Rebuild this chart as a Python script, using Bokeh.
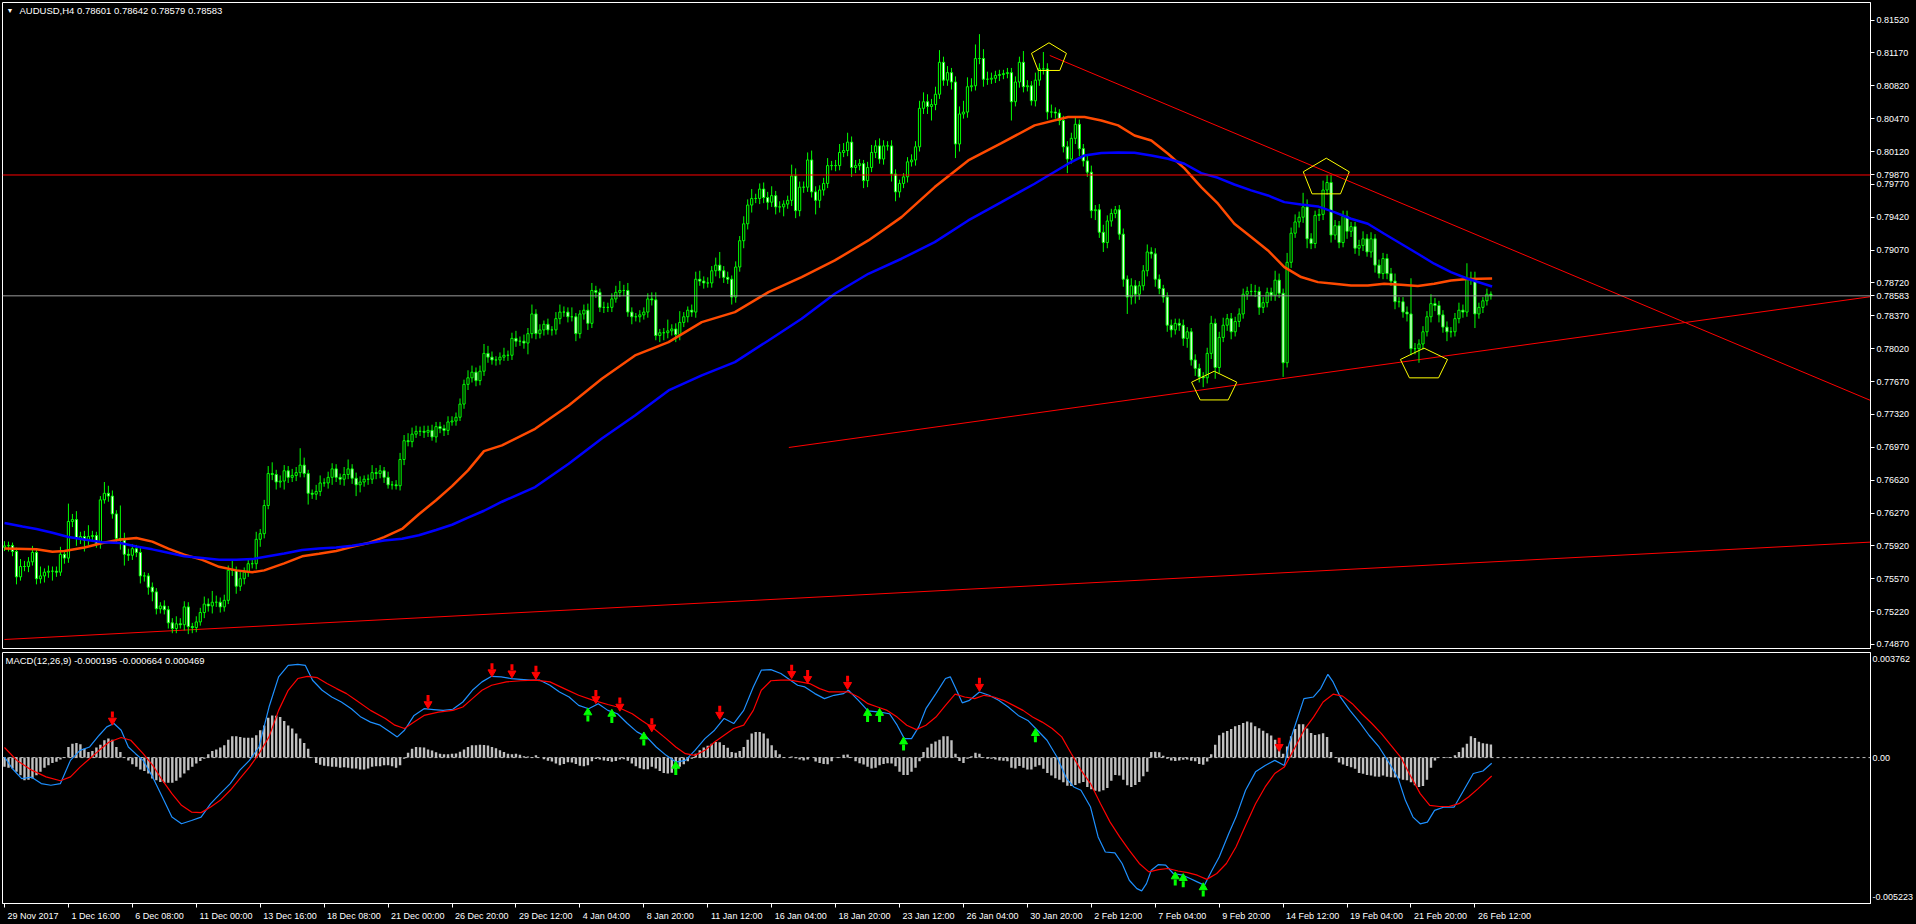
import numpy as np
from bokeh.plotting import figure
from bokeh.layouts import column
from bokeh.models import (Range1d, FixedTicker, PrintfTickFormatter, Label, Span,
                          ColumnDataSource, GlobalInlineStyleSheet)
from bokeh.embed import file_html
from bokeh.resources import INLINE

# ---------------------------------------------------------------- data
symbol_text = "AUDUSD,H4  0.78601 0.78642 0.78579 0.78583"
macd_text = "MACD(12,26,9) -0.000195 -0.000664 0.000469"

# H4 closes in 1e-5 price units (bar 0 = 29 Nov 2017 00:00)
first_open = 75905
closes = [
    75920, 75925, 75860, 75590, 75700, 75700, 75750, 75850, 75570, 75600,
    75640, 75650, 75650, 75640, 75830, 75790, 76180, 76200, 76000, 76020,
    75980, 76020, 76030, 75940, 76410, 76480, 76450, 76260, 76000, 75980,
    75830, 75820, 75890, 75850, 75600, 75600, 75480, 75430, 75250, 75280,
    75240, 75100, 75040, 75090, 75080, 75270, 75060, 75050, 75110, 75210,
    75300, 75280, 75320, 75320, 75270, 75340, 75660, 75660, 75490, 75570,
    75640, 75730, 75730, 75990, 76050, 76350, 76690, 76680, 76600, 76610,
    76720, 76650, 76670, 76700, 76780, 76690, 76480, 76470, 76500, 76590,
    76590, 76650, 76740, 76650, 76630, 76680, 76740, 76640, 76570, 76600,
    76630, 76630, 76700, 76690, 76720, 76650, 76570, 76570, 76560, 76840,
    77040, 77030, 77110, 77140, 77140, 77130, 77150, 77080, 77190, 77170,
    77150, 77240, 77250, 77290, 77430, 77640, 77710, 77770, 77680, 77780,
    77970, 77930, 77900, 77900, 77930, 77950, 77950, 78130, 78100, 78100,
    78080, 78180, 78390, 78180, 78220, 78280, 78220, 78220, 78340, 78410,
    78410, 78360, 78360, 78180, 78390, 78430, 78290, 78640, 78620, 78460,
    78460, 78460, 78550, 78620, 78640, 78640, 78410, 78360, 78360, 78380,
    78410, 78550, 78540, 78160, 78190, 78190, 78210, 78230, 78170, 78300,
    78360, 78430, 78410, 78760, 78740, 78720, 78720, 78850, 78910, 78850,
    78780, 78760, 78570, 78890, 79170, 79350, 79550, 79620, 79620, 79720,
    79630, 79580, 79650, 79530, 79530, 79560, 79600, 79860, 79490, 79740,
    79740, 80030, 79690, 79600, 79710, 79780, 79970, 79970, 79970, 80110,
    80130, 80220, 79950, 79970, 79990, 79810, 79950, 80110, 80180, 80040,
    80180, 80180, 79880, 79690, 79780, 79850, 80010, 80030, 80170, 80580,
    80650, 80600, 80620, 80730, 81070, 80880, 80960, 80860, 80200, 80520,
    80540, 80810, 80820, 81110, 81110, 80890, 80890, 80900, 80930, 80940,
    80950, 80960, 80650, 80860, 81070, 80810, 80820, 80660, 80880, 81000,
    81000, 80540, 80540, 80530, 80450, 80170, 80040, 80260, 80410, 80150,
    80020, 79900, 79490, 79500, 79260, 79150, 79380, 79460, 79500, 79240,
    78760, 78570, 78690, 78600, 78690, 78850, 79050, 79030, 78760, 78660,
    78570, 78270, 78220, 78290, 78270, 78130, 78200, 77900, 77810, 77720,
    77710, 77970, 78290, 77820, 78140, 78270, 78340, 78200, 78310, 78390,
    78600, 78630, 78630, 78630, 78460, 78510, 78620, 78590, 78750, 78610,
    77870, 78940, 79250, 79370, 79420, 79530, 79190, 79140, 79440, 79450,
    79710, 79790, 79230, 79330, 79150, 79430, 79270, 79320, 79090, 79120,
    79190, 79050, 79190, 78910, 78820, 78980, 78820, 78740, 78520, 78520,
    78410, 78390, 78020, 78020, 78070, 78200, 78360, 78500, 78480, 78380,
    78250, 78200, 78200, 78340, 78430, 78410, 78770, 78760, 78390, 78460,
    78530, 78600, 78583,
]
# wick lengths above / below the body, in pips (1e-4)
upper_wick = [
    5, 4, 3, 4, 8, 6, 5, 7, 3, 10, 4, 6, 5, 5, 8, 4, 19, 6, 9, 5,
    6, 12, 5, 4, 4, 12, 8, 6, 4, 35, 8, 6, 5, 4, 5, 4, 3, 5, 4, 4,
    6, 4, 5, 8, 6, 6, 5, 4, 6, 5, 8, 6, 12, 7, 5, 6, 5, 12, 4, 8,
    5, 6, 6, 8, 5, 6, 8, 12, 5, 6, 6, 5, 7, 6, 18, 8, 4, 4, 7, 8,
    5, 6, 6, 5, 4, 8, 10, 5, 6, 6, 4, 5, 8, 5, 6, 4, 6, 4, 5, 7,
    6, 8, 7, 6, 5, 6, 5, 6, 5, 5, 4, 6, 5, 5, 6, 5, 8, 7, 5, 6,
    10, 8, 6, 4, 5, 8, 5, 6, 8, 5, 7, 6, 10, 5, 6, 4, 6, 4, 7, 8,
    6, 5, 10, 4, 4, 6, 7, 8, 5, 4, 6, 5, 6, 7, 10, 6, 8, 5, 4, 5,
    5, 6, 7, 8, 4, 5, 12, 5, 6, 12, 5, 4, 6, 8, 9, 5, 6, 5, 8, 14,
    5, 6, 4, 6, 5, 8, 6, 10, 5, 6, 7, 6, 10, 5, 6, 4, 5, 12, 8, 6,
    6, 8, 10, 6, 5, 6, 8, 5, 6, 9, 8, 10, 6, 6, 5, 4, 6, 8, 6, 8,
    6, 5, 6, 5, 4, 4, 5, 6, 6, 8, 10, 8, 6, 8, 13, 6, 7, 5, 6, 8,
    12, 10, 8, 15, 26, 10, 8, 6, 5, 5, 4, 5, 5, 6, 6, 12, 6, 5, 8, 6,
    18, 6, 8, 5, 4, 5, 6, 6, 8, 5, 5, 6, 7, 5, 6, 8, 6, 5, 4, 5,
    6, 4, 8, 6, 5, 6, 8, 5, 6, 5, 4, 5, 6, 5, 5, 6, 5, 4, 6, 5,
    5, 6, 8, 5, 6, 8, 5, 6, 5, 6, 6, 5, 8, 7, 5, 6, 5, 5, 10, 7,
    5, 10, 6, 8, 6, 15, 8, 6, 5, 6, 10, 8, 8, 6, 5, 6, 6, 5, 5, 6,
    8, 5, 7, 5, 6, 6, 5, 6, 8, 5, 5, 6, 38, 6, 5, 6, 6, 10, 6, 5,
    5, 6, 5, 6, 8, 6, 16, 7, 8, 5, 4, 6, 3,
]
lower_wick = [
    4, 6, 5, 8, 4, 5, 6, 4, 6, 5, 7, 6, 10, 5, 4, 6, 5, 6, 8, 6,
    12, 5, 6, 4, 5, 4, 6, 5, 6, 10, 12, 6, 5, 5, 8, 6, 8, 10, 6, 5,
    5, 6, 5, 5, 4, 6, 8, 6, 5, 4, 6, 6, 8, 5, 6, 5, 4, 6, 8, 5,
    6, 5, 5, 6, 8, 5, 4, 6, 8, 6, 9, 6, 5, 6, 5, 4, 12, 5, 6, 5,
    4, 6, 8, 5, 6, 7, 5, 6, 12, 8, 5, 6, 5, 6, 5, 6, 4, 5, 4, 5,
    6, 5, 6, 4, 5, 6, 5, 4, 6, 5, 6, 5, 4, 5, 4, 5, 6, 5, 6, 5,
    5, 6, 5, 6, 5, 4, 6, 5, 6, 5, 6, 12, 5, 6, 5, 6, 5, 6, 5, 6,
    5, 6, 5, 8, 5, 6, 7, 5, 6, 5, 6, 5, 5, 4, 5, 6, 5, 8, 5, 6,
    5, 6, 6, 5, 7, 8, 6, 5, 8, 6, 5, 6, 5, 6, 5, 6, 5, 5, 6, 8,
    6, 5, 8, 6, 5, 8, 6, 8, 5, 6, 6, 8, 5, 8, 6, 10, 5, 6, 8, 6,
    6, 5, 6, 15, 8, 6, 5, 5, 6, 5, 5, 6, 10, 6, 5, 8, 7, 5, 6, 5,
    6, 5, 8, 10, 6, 5, 6, 5, 6, 5, 6, 8, 15, 6, 5, 6, 6, 8, 15, 8,
    5, 6, 5, 5, 6, 8, 6, 5, 5, 6, 5, 5, 20, 5, 6, 6, 5, 5, 6, 6,
    6, 8, 6, 6, 5, 6, 15, 5, 6, 8, 6, 5, 8, 10, 6, 10, 6, 6, 5, 6,
    8, 18, 8, 10, 6, 5, 6, 5, 8, 6, 6, 7, 8, 5, 6, 8, 10, 6, 8, 6,
    10, 6, 6, 12, 6, 5, 6, 8, 5, 6, 5, 6, 5, 6, 8, 6, 5, 6, 6, 5,
    15, 5, 6, 5, 6, 6, 10, 6, 5, 6, 6, 5, 8, 5, 6, 5, 8, 6, 6, 8,
    6, 5, 6, 8, 5, 6, 6, 5, 8, 6, 6, 8, 7, 6, 15, 6, 5, 6, 6, 8,
    6, 10, 6, 5, 5, 6, 5, 6, 15, 5, 6, 5, 4,
]

# moving averages, read at sample bars
orange_ma_bar = [0, 8, 12, 15, 20, 24.5, 29, 33, 37, 41, 45, 49.5, 53.7, 58, 62, 65, 70, 74.5,
                 78.7, 83, 87, 91, 95, 99.5, 103.7, 108, 112, 116, 120, 124.5, 132.8, 141.2,
                 149.5, 157.8, 166.2, 174.5, 182.8, 191.2, 199.5, 207.8, 216.2, 224.5, 232.8,
                 241.2, 249.5, 257.8, 266.2, 270.3, 274.5, 278.7, 282.8, 287, 291.2, 295.3,
                 299.5, 303.7, 307.8, 312, 316.2, 320.3, 324.5, 328.7, 332.8, 337, 341.2,
                 345.3, 349.5, 353.7, 357.8, 362, 366.2, 372.3]
orange_ma_val = [0.75891, 0.75883, 0.75857, 0.75865, 0.75902, 0.7595, 0.75988, 0.76003, 0.75965,
                 0.7589, 0.75827, 0.75771, 0.75697, 0.75659, 0.7564, 0.75659, 0.75734, 0.75809,
                 0.75835, 0.75865, 0.75909, 0.7595, 0.76014, 0.761, 0.76257, 0.76406, 0.76556,
                 0.76724, 0.76929, 0.7699, 0.77167, 0.77416, 0.777, 0.77948, 0.7809, 0.78303,
                 0.7841, 0.78623, 0.78783, 0.7896, 0.79173, 0.79421, 0.79741, 0.80025, 0.8021,
                 0.80398, 0.80487, 0.80487, 0.80451, 0.80398, 0.80291, 0.80238, 0.80096, 0.7994,
                 0.79741, 0.79564, 0.79351, 0.79209, 0.79066, 0.78889, 0.78783, 0.78729, 0.78712,
                 0.78694, 0.78694, 0.78712, 0.78701, 0.78687, 0.78712, 0.78747, 0.78761, 0.78768]
blue_ma_bar = [0, 4.5, 8, 12, 16, 20, 24.5, 29, 33, 37, 41, 45, 49.5, 53.7, 58, 62, 66, 70, 74.5,
               78.7, 83, 87, 91, 95, 99.5, 103.7, 108, 112, 116, 120, 124.5, 132.8, 141.2, 149.5,
               157.8, 166.2, 174.5, 182.8, 191.2, 199.5, 207.8, 216.2, 224.5, 232.8, 241.2, 249.5,
               257.8, 266.2, 270.3, 274.5, 278.7, 282.8, 287, 291.2, 295.3, 299.5, 303.7, 307.8,
               312, 316.2, 320.3, 324.5, 328.7, 332.8, 337, 341.2, 345.3, 349.5, 353.7, 357.8,
               362, 366.2, 372.3]
blue_ma_val = [0.76163, 0.76126, 0.761, 0.76059, 0.76014, 0.75988, 0.75958, 0.75951, 0.75913,
               0.75883, 0.75846, 0.75809, 0.7579, 0.75771, 0.75771, 0.75779, 0.75809, 0.75838,
               0.75876, 0.75891, 0.75902, 0.75921, 0.75947, 0.75977, 0.75995, 0.76033, 0.76089,
               0.76145, 0.7622, 0.76294, 0.7639, 0.76546, 0.76795, 0.77063, 0.77309, 0.77575,
               0.77735, 0.77877, 0.78108, 0.78339, 0.78605, 0.78818, 0.78978, 0.79155, 0.79386,
               0.79581, 0.79777, 0.7999, 0.80078, 0.80103, 0.8011, 0.80106, 0.80078, 0.80043,
               0.7999, 0.7989, 0.7984, 0.79769, 0.79706, 0.79652, 0.79581, 0.79556, 0.79535,
               0.79475, 0.79404, 0.79351, 0.79244, 0.79138, 0.79031, 0.78925, 0.78836, 0.78765,
               0.78683]

# horizontal levels and trend lines (anchor points: bar, price)
red_level = 0.79870
bid_level = 0.78583
trend_x0 = [261.6, 196.3, 0.0]
trend_y0 = [0.81143, 0.76968, 0.74923]
trend_x1 = [467.0, 467.0, 467.0]
trend_y1 = [0.77469, 0.78574, 0.75960]

# yellow pentagon markers: centre bar, centre price, half-width (bars), half-height (price)
pent_bar = [261.4, 330.8, 302.75, 355.25]
pent_price = [0.81115, 0.79839, 0.77611, 0.77851]
pent_rx = [4.6, 6.05, 5.95, 6.2]
pent_ry = [0.00163, 0.0021, 0.00169, 0.00175]

# MACD main line (1e-5 units) read at sample bars
macd_bar = [0, 2, 4.3, 6.8, 9.2, 11.6, 14, 16.5, 18.9, 21.3, 23.7, 25.6, 27.4, 29.2, 31, 32.8,
            34.7, 37.1, 39.5, 41.9, 44.3, 46.8, 49.2, 51.6, 54, 56.5, 58.9, 61.3, 63.7, 66.2,
            68.6, 71, 73.4, 75.3, 77.1, 79.5, 81.9, 84.3, 86.8, 89.2, 91.6, 94, 96.5, 98.3,
            100.1, 102.5, 105, 107.4, 109.8, 112.2, 114.7, 117.1, 119.5, 121.9, 124.3, 126.8,
            129.2, 131.6, 134, 136.5, 138.9, 141.3, 143.7, 146.2, 148.6, 151, 153.4, 155.9,
            158.3, 160.7, 163.1, 165.6, 168, 170.4, 172.8, 175.3, 177.7, 180.1, 182.5, 185,
            187.4,
            189.4, 191.8, 194.3, 196.7, 198.5, 200.3, 202.8, 205.2, 207.6, 210, 211.2, 213.7,
            216.1, 219.1, 221.5, 223.4, 225.2, 227, 228.8, 230.6, 233.1, 235.5, 236.7, 237.9,
            239.7, 241.5, 244, 246.4, 248.8, 251.2, 253.7, 256.1, 258.5, 260.9, 263.4, 265.8,
            267.6, 269.4, 271.8, 273.7, 275.5, 277.9, 279.7, 281.5, 283.4, 284.6, 285.8, 287,
            288.8, 290.6, 292.5, 294.9, 296.7, 298.5, 300.3, 302.2, 304, 306.4, 308.2, 310.6,
            313.1, 315.5, 317.9, 320.3, 321.5, 323.4, 325.2, 327.6, 329.4, 331.2, 332.5, 334.3,
            336.7, 339.1, 341.5, 344, 346.4, 348.8, 350.6, 352.5, 354.3, 356.1, 357.9, 360.3,
            362.8, 365.2, 367.6, 370, 372.2]
macd_val = [2, -40, -75, -70, -93, -99, -93, -10, 26, 38, 80, 110, 122, 98, 38, 14, -10, -70,
            -141, -213, -237, -225, -213, -165, -129, -93, -45, -10, 38, 181, 289, 330, 334, 330,
            277, 241, 217, 199, 175, 145, 127, 116, 92, 74, 98, 151, 175, 172, 169, 173, 199, 241,
            271, 291, 289, 283, 280, 277, 277, 259, 235, 217, 187, 175, 193, 169, 157, 122, 92,
            74, 38, 8, -16, -10, 26, 68, 98, 140, 122, 169, 253,
            313, 315, 301, 277, 259, 253, 229, 211, 223, 229, 241, 205, 167, 163, 157, 116, 68,
            68, 110, 175, 229, 283, 289, 253, 196, 205, 235, 223, 205, 181, 151, 133, 98, 62, 2,
            -75, -105, -117, -177, -284, -338, -341, -379, -439, -469, -477, -451, -403, -383,
            -385, -415, -421, -433, -445, -457, -403, -356, -272, -213, -117, -51, -28, -10, -28,
            50, 133, 211, 217, 247, 298, 271, 217, 169, 127, 80, 38, -16, -75, -153, -213, -237,
            -231, -189, -177, -177, -117, -57, -48, -20]
# MACD signal line (1e-5 units)
signal_bar = [0, 3.1, 6.8, 10.4, 14, 16.5, 18.9, 21.3, 23.7, 26.2, 29.2, 31.6, 34.7, 37.1, 39.5,
              41.9, 44.3, 46.8, 49.2, 51.6, 54, 56.5, 58.9, 61.3, 63.7, 66.2, 68.6, 71, 73.4,
              75.8, 78.3, 80.7, 83.1, 85.6, 88, 91.6, 95.3, 97.7, 100.1, 102.5, 105, 108.6, 112.2,
              114.7, 117.1, 119.5, 121.9, 125.6, 129.2, 132.8, 136.5, 140.1, 143.7, 147.4, 151,
              153.4, 157.1, 159.5, 162.5, 165.6, 168, 170.4, 172.8, 175.3, 177.7, 180.1, 182.5,
              185, 187.4,
              189.4, 191.8, 194.3, 196.7, 199.1, 201.5, 204, 206.4, 208.8, 211.2, 213.7, 216.1,
              218.5, 220.9, 223.4, 225.8, 228.2, 230.6, 233.1, 235.5, 237.9, 240.3, 242.8, 245.2,
              247.6, 250, 252.5, 254.9, 257.3, 259.7, 262.2, 264.6, 267, 269.4, 271.8, 274.3,
              276.7, 279.1, 281.5, 284, 286.4, 288.8, 291.2, 293.7, 296.1, 298.5, 300.9, 303.4,
              305.8, 308.2, 310.6, 313.1, 315.5, 317.9, 320.3, 322.8, 325.2, 327.6, 330, 332.5,
              334.9, 337.3, 339.7, 342.2, 344.6, 347, 349.4, 351.8, 354.3, 356.7, 359.1, 361.5,
              364, 366.4, 368.8, 372.2]
signal_val = [36, -10, -45, -69, -83, -69, -34, -4, 26, 56, 72, 62, 14, -28, -81, -129, -171,
              -195, -197, -177, -153, -117, -75, -34, 14, 74, 169, 241, 283, 291, 286, 265, 247,
              229, 205, 169, 140, 116, 104, 127, 151, 163, 169, 181, 211, 241, 259, 271, 275,
              277, 271, 247, 223, 205, 190, 181, 157, 133, 104, 68, 38, 14, 8, 26, 56, 80, 104,
              116, 169,
              241, 275, 277, 277, 271, 265, 247, 235, 235, 235, 217, 193, 181, 169, 145, 116, 100,
              116, 145, 187, 227, 217, 211, 223, 217, 205, 187, 169, 145, 127, 104, 74, 14, -45,
              -93, -165, -231, -284, -332, -379, -409, -401, -397, -406, -412, -421, -436, -415,
              -379, -320, -243, -165, -105, -57, -34, 32, 98, 145, 199, 227, 220, 193, 157, 122,
              86, 44, 2, -63, -129, -171, -175, -175, -165, -141, -111, -66]
# MACD histogram per bar (1e-5 units)
hist = [
    -33, -36, -39, -51, -63, -81, -79, -75, -63, -51, -36, -27, -19, -15, -7, 2, 38, 50, 52, 48,
    32, 20, 24, 36, 46, 62, 68, 64, 38, 20, 0, -10, -24, -33, -43, -48, -57, -75, -81, -87,
    -90, -90, -90, -83, -71, -57, -45, -33, -21, -12, -4, 12, 24, 29, 36, 44, 64, 76, 76, 74,
    71, 71, 71, 80, 98, 115, 143, 151, 150, 145, 131, 115, 104, 86, 68, 52, 32, 2, -19, -26,
    -29, -31, -33, -33, -36, -35, -36, -39, -39, -43, -43, -39, -33, -31, -31, -27, -27, -31, -36, -27,
    -4, 17, 32, 38, 37, 36, 29, 25, 19, 14, 12, 12, 14, 15, 21, 29, 38, 44, 44, 46,
    45, 43, 38, 33, 26, 20, 14, 12, 14, 10, 5, 4, 2, 8, 0, -6, -11, -14, -21, -27,
    -23, -17, -18, -23, -29, -31, -27, -13, -5, -7, -10, -12, -15, -12, -7, -6, -11, -21, -31, -38,
    -42, -42, -33, -39, -48, -55, -57, -54, -45, -33, -24, -13, -4, 14, 26, 36, 42, 50, 56, 55,
    45, 35, 20, 17, 24, 38, 64, 86, 92, 92, 86, 68, 44, 26, 12, 2, 0, 4, -2, -7,
    -10, -7, 0, -14, -19, -23, -24, -13, -1, 2, 10, 11, 2, -13, -20, -25, -33, -39, -36, -27,
    -23, -20, -21, -31, -51, -62, -62, -51, -36, -13, 20, 36, 50, 58, 64, 76, 76, 62, 14, -12,
    -19, -4, 5, 17, 14, 2, -4, -4, -7, -10, -11, -13, -36, -39, -30, -36, -43, -43, -33, -27,
    -40, -55, -64, -74, -79, -88, -101, -102, -98, -92, -87, -105, -113, -119, -121, -117, -109, -83, -62, -64,
    -79, -99, -105, -98, -87, -67, -51, 20, 21, 19, 7, -4, -10, -12, -10, -8, -7, -11, -13, -23,
    -26, -14, 12, 46, 80, 89, 95, 102, 112, 117, 124, 129, 126, 112, 105, 96, 87, 79, 64, 36,
    14, 40, 76, 102, 119, 119, 104, 88, 81, 84, 87, 74, 20, 0, -18, -25, -30, -35, -40, -55,
    -58, -62, -64, -68, -69, -64, -69, -70, -71, -75, -79, -81, -88, -99, -105, -102, -79, -36, -10, 0,
    0, 2, 2, 8, 20, 36, 50, 76, 70, 57, 51, 50, 47,
]
# divergence arrows on the MACD window (bar, MACD value at the arrow tip)
down_arrow_bar = [27, 106, 122, 127, 133, 148, 154, 162, 179, 197, 201, 211, 244, 319]
down_arrow_val = [0.00122, 0.00181, 0.00295, 0.00291, 0.00286, 0.00199, 0.00172, 0.00098,
                  0.00143, 0.00289, 0.00271, 0.00250, 0.00243, 0.00028]
up_arrow_bar = [146, 152, 160, 168, 216, 219, 225, 258, 293, 295, 300]
up_arrow_val = [0.00172, 0.00167, 0.00086, -0.00019, 0.0017, 0.0017, 0.00068, 0.00098,
                -0.00415, -0.00421, -0.00454]

# axes
price_ticks = [0.74870, 0.75220, 0.75570, 0.75920, 0.76270, 0.76620, 0.76970, 0.77320,
               0.77670, 0.78020, 0.78370, 0.78720, 0.79070, 0.79420, 0.79770, 0.80120,
               0.80470, 0.80820, 0.81170, 0.81520]
macd_max, macd_min = 0.003762, -0.005223
macd_tick_labels = ["-0.005223", "0.00", "0.003762"]
date_ticks = [0, 16, 32, 48, 64, 80, 96, 112, 128, 144, 160, 176, 192, 208, 224, 240, 256,
              272, 288, 304, 320, 336, 352, 368]
date_labels = ["29 Nov 2017", "1 Dec 16:00", "6 Dec 08:00", "11 Dec 00:00", "13 Dec 16:00",
               "18 Dec 08:00", "21 Dec 00:00", "26 Dec 20:00", "29 Dec 12:00", "4 Jan 04:00",
               "8 Jan 20:00", "11 Jan 12:00", "16 Jan 04:00", "18 Jan 20:00", "23 Jan 12:00",
               "26 Jan 04:00", "30 Jan 20:00", "2 Feb 12:00", "7 Feb 04:00", "9 Feb 20:00",
               "14 Feb 12:00", "19 Feb 04:00", "21 Feb 20:00", "26 Feb 12:00"]

# ---------------------------------------------------------------- layout / style
W = 1916
H_MAIN, H_MACD = 650, 274
RB = 44
FONT = "Liberation Sans"
AX_SIZE = 9
X0 = -0.5
FRAME_W = W - 2 - RB
X1 = X0 + FRAME_W / 4.0            # 4 px per H4 bar
PPB = FRAME_W / (X1 - X0)
LIME, WHITE = "#00FF00", "#FFFFFF"
FH_MAIN = H_MAIN - 4
FH_MACD = H_MACD - 2 - 21
UPP = (macd_max - macd_min) / FH_MACD  # MACD units per pixel

# Arial / Liberation Sans advance widths (1/1000 em), used to place left-aligned date labels
_ADV = {**{d: 556 for d in "0123456789"}, " ": 278, ":": 278, ".": 278, "-": 333,
        "D": 722, "N": 722, "J": 500, "F": 611, "e": 556, "c": 500, "o": 556, "v": 500,
        "a": 556, "n": 556, "b": 556}


def text_width(s, size):
    return sum(_ADV.get(ch, 556) for ch in s) * size / 1000.0


c = np.array(closes) / 1e5
o = np.concatenate([[first_open / 1e5], c[:-1]])
top = np.maximum(o, c)
bot = np.minimum(o, c)
hi = top + np.array(upper_wick) * 1e-4
lo = bot - np.array(lower_wick) * 1e-4
idx = np.arange(len(c))
fill = ["#000000" if cc >= oo else "#FFFFFF" for oo, cc in zip(o, c)]
src = ColumnDataSource(dict(x=idx, hi=hi, lo=lo, top=top, bot=bot, fill=fill))


def style(p):
    p.background_fill_color = "black"
    p.border_fill_color = "black"
    p.outline_line_color = WHITE
    p.outline_line_width = 1
    p.grid.visible = False


main = figure(width=W, height=H_MAIN, x_range=Range1d(X0, X1), y_range=Range1d(0.74827, 0.81707),
              output_backend="svg", toolbar_location=None, y_axis_location="right",
              x_axis_location=None, min_border_left=2, min_border_right=RB,
              min_border_top=2, min_border_bottom=2)
style(main)
ya = main.yaxis[0]
ya.ticker = FixedTicker(ticks=price_ticks + [red_level, bid_level], minor_ticks=[])
ya.formatter = PrintfTickFormatter(format="%.5f")
ya.axis_line_color = WHITE
ya.major_tick_line_color = WHITE
ya.major_tick_in = 0
ya.major_tick_out = 4
ya.major_label_standoff = 2
ya.major_label_text_color = WHITE
ya.major_label_text_font = FONT
ya.major_label_text_font_size = f"{AX_SIZE}px"

# trend lines (under the candles)
main.segment(x0=trend_x0, y0=trend_y0, x1=trend_x1, y1=trend_y1, line_color="#FF0000", line_width=1)

# candles
main.segment(x0="x", y0="lo", x1="x", y1="hi", source=src, line_color=LIME, line_width=1)
main.vbar(x="x", top="top", bottom="bot", width=0.55, source=src, fill_color="fill",
          line_color=LIME, line_width=1)

# moving averages
main.line(orange_ma_bar, orange_ma_val, line_color="#FF4A00", line_width=2.5)
main.line(blue_ma_bar, blue_ma_val, line_color="#0000FF", line_width=2.5)

# levels
main.add_layout(Span(location=red_level, dimension="width", line_color="#FF0000", line_width=1))
main.add_layout(Span(location=bid_level, dimension="width", line_color="#9A9A9A", line_width=1))

# pentagons
ang = np.deg2rad([90, 18, -54, -126, 162, 90])
pxs = [list(cx + rx * np.cos(ang)) for cx, rx in zip(pent_bar, pent_rx)]
pys = [list(cy + ry * np.sin(ang)) for cy, ry in zip(pent_price, pent_ry)]
main.multi_line(pxs, pys, line_color="#FFFF00", line_width=1)

# title of the main window
main.add_layout(Label(x=4, y=FH_MAIN - 8, x_units="screen", y_units="screen", text="\u25BC",
                      text_color=WHITE, text_font=FONT, text_font_size="7px",
                      text_baseline="middle"))
main.add_layout(Label(x=17, y=FH_MAIN - 8, x_units="screen", y_units="screen", text=symbol_text,
                      text_color=WHITE, text_font=FONT, text_font_size="9.5px",
                      text_baseline="middle"))

# ---------------------------------------------------------------- MACD window
macd = figure(width=W, height=H_MACD, x_range=main.x_range, y_range=Range1d(macd_min, macd_max),
              output_backend="svg", toolbar_location=None, y_axis_location="right",
              min_border_left=2, min_border_right=RB, min_border_top=2, min_border_bottom=21)
style(macd)

# date axis: tick marks at the bars (minor ticks), labels to the right of each mark
label_pos = [round(t + (3 + text_width(s, AX_SIZE) / 2) / PPB, 3)
             for t, s in zip(date_ticks, date_labels)]
xa = macd.xaxis[0]
xa.ticker = FixedTicker(ticks=label_pos, minor_ticks=date_ticks)
xa.major_label_overrides = {p: s for p, s in zip(label_pos, date_labels)}
xa.axis_line_color = WHITE
xa.major_tick_line_color = None
xa.major_tick_in = 0
xa.major_tick_out = 0
xa.minor_tick_line_color = WHITE
xa.minor_tick_in = 0
xa.minor_tick_out = 4
xa.major_label_standoff = 3
xa.major_label_text_color = WHITE
xa.major_label_text_font = FONT
xa.major_label_text_font_size = f"{AX_SIZE}px"

# value axis: labels kept inside the window height, as in the terminal
macd_label_pos = [round(macd_min + 6 * UPP, 6), 0.0, round(macd_max - 6 * UPP, 6)]
my = macd.yaxis[0]
my.ticker = FixedTicker(ticks=macd_label_pos, minor_ticks=[])
my.major_label_overrides = {p: s for p, s in zip(macd_label_pos, macd_tick_labels)}
my.axis_line_color = WHITE
my.major_tick_line_color = None
my.major_tick_in = 0
my.major_tick_out = 0
my.major_label_standoff = 2
my.major_label_text_color = WHITE
my.major_label_text_font = FONT
my.major_label_text_font_size = f"{AX_SIZE}px"

macd.add_layout(Span(location=0, dimension="width", line_color="#C0C0C0", line_width=1,
                     line_dash="3 3", level="underlay"))
macd.vbar(x=idx, top=np.array(hist) / 1e5, bottom=0, width=0.6, fill_color="#C0C0C0",
          line_color=None)
macd.line(macd_bar, np.array(macd_val) / 1e5, line_color="#1E90FF", line_width=1.2)
macd.line(signal_bar, np.array(signal_val) / 1e5, line_color="#FF0000", line_width=1.2)

dv = np.array(down_arrow_val)
macd.segment(x0=down_arrow_bar, y0=dv + 6 * UPP, x1=down_arrow_bar, y1=dv + 12 * UPP,
             line_color="#FF0000", line_width=3)
macd.scatter(down_arrow_bar, dv + 3 * UPP, marker="inverted_triangle", size=8,
             fill_color="#FF0000", line_color="#FF0000")
uv = np.array(up_arrow_val)
macd.segment(x0=up_arrow_bar, y0=uv - 6 * UPP, x1=up_arrow_bar, y1=uv - 12 * UPP,
             line_color="#00FF00", line_width=3)
macd.scatter(up_arrow_bar, uv - 3 * UPP, marker="triangle", size=8,
             fill_color="#00FF00", line_color="#00FF00")

macd.add_layout(Label(x=3, y=FH_MACD - 8, x_units="screen", y_units="screen", text=macd_text,
                      text_color=WHITE, text_font=FONT, text_font_size="9.5px",
                      text_baseline="middle"))

page_css = "html, body { margin: 0; padding: 0; background: #000000; overflow: hidden; }"
page = column(main, macd, spacing=0, stylesheets=[GlobalInlineStyleSheet(css=page_css)])

open("out.html", "w").write(file_html(page, INLINE))
